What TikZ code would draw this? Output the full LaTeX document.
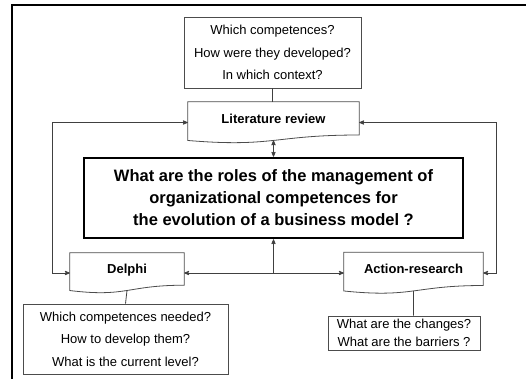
\documentclass[tikz,border=0pt]{standalone}
\usepackage{fontspec}
\setmainfont{Liberation Sans}
\usepackage{tikz}
\usetikzlibrary{arrows}
\usetikzlibrary{calc}
\tikzset{
    qnode/.style = {align=center, inner sep=0pt, text centered},
    qbox/.style = {qnode, rectangle, draw=black!70, line width=0.8pt, font=\fontsize{13}{22.5}\selectfont},
    mainbox/.style = {qnode, rectangle, draw=black, line width=2.6pt, font=\bfseries\fontsize{16.5}{22}\selectfont},
    docnode/.style = {qnode, rectangle, text depth=8pt, font=\bfseries\fontsize{13}{15}\selectfont},
    docline/.style = {draw=black!70, line width=0.8pt},
    link/.style = {draw=black!75, line width=0.8pt}
}
% outline of a document shape round a named node
\newcommand{\docshape}[1]{
    \draw[docline] (#1.north west) -- (#1.north east)
        -- ($(#1.north east)!0.802!(#1.south east)$)
        .. controls ($(#1.north)!0.802!(#1.south)$) and ($(#1.north)!1.107!(#1.south)$)
        .. ($(#1.north west)!0.934!(#1.south west)$) -- cycle;
}
\begin{document}
\begin{tikzpicture}
            [x=1pt, y=-1pt, >=stealth']

            \useasboundingbox (0,0) rectangle (526,378);
            \draw[line width=2.5pt] (526,5) -- (12,5) -- (12,380);

            % questions and methods
            \node [qbox, minimum width=177pt, minimum height=71pt] (litq) at (272.5,52.5)
                {Which competences?\\How were they developed?\\In which context?};
            \node [docnode, minimum width=171pt, minimum height=41pt] (litrev) at (273.5,122.5) {Literature review};
            \docshape{litrev}
            \node [mainbox, minimum width=379pt, minimum height=80pt] (main) at (273.5,198)
                {What are the roles of the management of\\organizational competences for\\the evolution of a business model ?};
            \node [docnode, minimum width=114pt, minimum height=40pt] (delphi) at (127,273) {Delphi};
            \docshape{delphi}
            \node [docnode, minimum width=139pt, minimum height=41pt] (action) at (413.5,273) {Action-research};
            \docshape{action}
            \node [qbox, minimum width=205pt, minimum height=70pt] (delphiq) at (125.5,339)
                {Which competences needed?\\How to develop them?\\What is the current level?};
            \node [qbox, minimum width=152pt, minimum height=34pt, font=\fontsize{13}{18}\selectfont] (actionq) at (404,333)
                {What are the changes?\\What are the barriers ?};

            % connectors
            \coordinate (loopl) at (52,0);
            \coordinate (loopr) at (496,0);
            \coordinate (junc) at (main.south |- delphi.east);
            \draw[link] (litq.south) -- (litq.south |- litrev.north);
            \draw[link, <->] ($(litrev.north)!0.933!(litrev.south)$) -- (main.north);
            \draw[link, <->] (litrev.west) -- (litrev.west -| loopl) |- (delphi.west);
            \draw[link, <->] (litrev.east) -- (litrev.east -| loopr) |- (action.east);
            \draw[link, <->] (delphi.east) -- (action.west);
            \draw[link, ->] (junc) -- (main.south);
            \draw[link] ($(delphi.north)!0.933!(delphi.south)$) -- (delphiq.north);
            \draw[link] ($(action.north)!0.933!(action.south)$) -- (action.south |- actionq.north);
\end{tikzpicture}
\end{document}
